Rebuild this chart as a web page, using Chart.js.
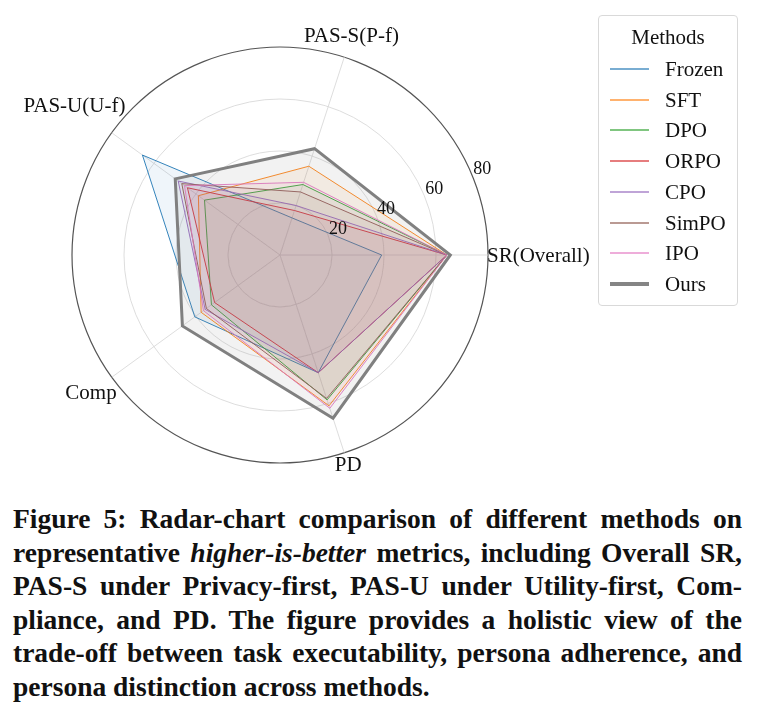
<!DOCTYPE html>
<html>
<head>
<meta charset="utf-8">
<script src="https://cdn.jsdelivr.net/npm/chart.js@4"></script>
<style>
    body { margin: 0; background: #fff; width: 759px; height: 718px; overflow: hidden; position: relative; }
    #radar { position: absolute; left: 0; top: 0; }
    #legend {
        position: absolute; left: 598px; top: 15px; width: 140px; height: 291px;
        border: 1px solid #d9d9d9; border-radius: 4px; box-sizing: border-box;
        font-family: "Liberation Serif", serif; font-size: 21px; color: #111;
    }
    #legend .title { position: absolute; left: 0; width: 100%; top: 9px; text-align: center; }
    #legend .item { position: absolute; left: 0; width: 100%; height: 24px; }
    #legend .swatch { position: absolute; left: 11px; width: 39px; top: 11px; }
    #legend .name { position: absolute; left: 66px; top: 0; line-height: 24px; }
    #caption {
        position: absolute; left: 13px; top: 502px; width: 729px;
        font-family: "Liberation Serif", serif; font-weight: bold; color: #111;
        line-height: 33.6px;
    }
    #caption div { text-align: justify; text-align-last: justify; white-space: nowrap; }
    #caption div.last { text-align-last: left; }
</style>
</head>
<body>
<canvas id="radar" width="759" height="495"></canvas>
<div id="legend"></div>
<div id="caption">
    <div>Figure 5: Radar-chart comparison of different methods on</div>
    <div>representative <i>higher-is-better</i> metrics, including Overall SR,</div>
    <div>PAS-S under Privacy-first, PAS-U under Utility-first, Com-</div>
    <div>pliance, and PD. The figure provides a holistic view of the</div>
    <div>trade-off between task executability, persona adherence, and</div>
    <div class="last">persona distinction across methods.</div>
</div>
<script>
// axes in the original (counter-clockwise from the right) order
const categories = ['SR(Overall)', 'PAS-S(P-f)', 'PAS-U(U-f)', 'Comp', 'PD']
const radialTicks = [20, 40, 60, 80]
const methods = ['Frozen', 'SFT', 'DPO', 'ORPO', 'CPO', 'SimPO', 'IPO', 'Ours']

const frozen = [39.1, 15.0, 65.4, 40.5, 47.6]
const sft    = [64.2, 35.9, 38.8, 37.5, 61.0]
const dpo    = [64.2, 28.5, 35.9, 32.6, 58.6]
const orpo   = [64.2, 18.0, 44.0, 31.1, 47.6]
const cpo    = [64.2, 20.0, 48.4, 35.6, 47.6]
const simpo  = [64.2, 25.5, 46.7, 35.0, 58.0]
const ipo    = [64.2, 29.4, 45.4, 36.4, 62.0]
const ours   = [65.5, 43.0, 49.8, 46.4, 66.0]

const seriesValues = [frozen, sft, dpo, orpo, cpo, simpo, ipo, ours]
const colors = ['#1f77b4', '#ff7f0e', '#2ca02c', '#d62728', '#9467bd', '#8c564b', '#e377c2', '#7f7f7f']

// chart.js goes clockwise, matplotlib goes counter-clockwise
const order = [0, 4, 3, 2, 1]
const reorder = arr => order.map(i => arr[i])

function rgba(hex, a) {
    const n = parseInt(hex.slice(1), 16)
    return `rgba(${(n >> 16) & 255},${(n >> 8) & 255},${n & 255},${a})`
}

const serif = '"Liberation Serif", serif'

const datasets = methods.map((name, i) => {
    const isOurs = name === 'Ours'
    return {
        label: name,
        data: reorder(seriesValues[i]),
        borderColor: isOurs ? '#808080' : rgba(colors[i], 0.9),
        backgroundColor: isOurs ? 'rgba(128,128,128,0.1)' : rgba(colors[i], 0.07),
        borderWidth: isOurs ? 3 : 1,
        fill: true,
        pointRadius: 0,
        order: methods.length - 1 - i
    }
})

// axis labels and radial tick labels, placed like matplotlib's polar axes
const labelPlugin = {
    id: 'polarText',
    afterDraw(chart) {
        const scale = chart.scales.r
        const ctx = chart.ctx
        const R = scale.drawingArea
        ctx.save()
        ctx.fillStyle = '#111'
        ctx.font = `21px ${serif}`
        ctx.textAlign = 'center'
        ctx.textBaseline = 'middle'
        const labels = reorder(categories)
        labels.forEach((text, i) => {
            const p = scale.getPointPosition(i, 0)
            const c = Math.cos(p.angle), s = Math.sin(p.angle)
            const w = ctx.measureText(text).width
            const d = R + Math.abs(c) * w / 2 + Math.abs(s) * 10 - 1
            ctx.fillText(text, scale.xCenter + c * d, scale.yCenter + s * d + 1)
        })
        ctx.font = `18px ${serif}`
        ctx.textAlign = 'left'
        ctx.textBaseline = 'alphabetic'
        const a = 22.5 * Math.PI / 180
        radialTicks.forEach(v => {
            const r = scale.getDistanceFromCenterForValue(v)
            ctx.fillText(String(v), scale.xCenter + r * Math.cos(a) + 1, scale.yCenter - r * Math.sin(a) - 1)
        })
        ctx.restore()
    }
}

const W = 759, H = 495
const cx = 280, cy = 255, radius = 208

new Chart(document.getElementById('radar').getContext('2d'), {
    type: 'radar',
    data: { labels: reorder(categories), datasets: datasets },
    options: {
        responsive: false,
        animation: false,
        layout: {
            padding: { left: cx - radius, top: cy - radius, right: W - cx - radius, bottom: H - cy - radius }
        },
        plugins: { legend: { display: false }, tooltip: { enabled: false } },
        elements: { line: { tension: 0 } },
        scales: {
            r: {
                min: 0,
                max: 80,
                startAngle: 90,
                ticks: { stepSize: 20, display: false },
                pointLabels: { display: false },
                grid: {
                    circular: true,
                    color: c => (c.tick && c.tick.value === 80) ? '#555555' : '#d4d4d4',
                    lineWidth: c => (c.tick && c.tick.value === 80) ? 1.2 : 0.8
                },
                angleLines: { color: '#d4d4d4', lineWidth: 0.8 }
            }
        }
    },
    plugins: [labelPlugin]
})

// legend
const legend = document.getElementById('legend')
legend.innerHTML = '<div class="title">Methods</div>'
methods.forEach((name, i) => {
    const isOurs = name === 'Ours'
    const item = document.createElement('div')
    item.className = 'item'
    item.style.top = (41 + i * 30.7) + 'px'
    const sw = document.createElement('div')
    sw.className = 'swatch'
    sw.style.height = isOurs ? '4px' : '2px'
    sw.style.marginTop = isOurs ? '-1px' : '0'
    sw.style.background = isOurs ? '#858585' : rgba(colors[i], 0.6)
    const nm = document.createElement('div')
    nm.className = 'name'
    nm.textContent = name
    item.appendChild(sw)
    item.appendChild(nm)
    legend.appendChild(item)
})

// caption: largest size that keeps every line inside the column
const cap = document.getElementById('caption')
const probe = document.createElement('canvas').getContext('2d')
const lines = Array.from(cap.children)
let size = 30
for (; size > 18; size -= 0.25) {
    probe.font = `bold ${size}px ${serif}`
    const widest = Math.max(...lines.map(l => probe.measureText(l.textContent).width))
    if (widest <= 722) break
}
cap.style.fontSize = size + 'px'
</script>
</body>
</html>
